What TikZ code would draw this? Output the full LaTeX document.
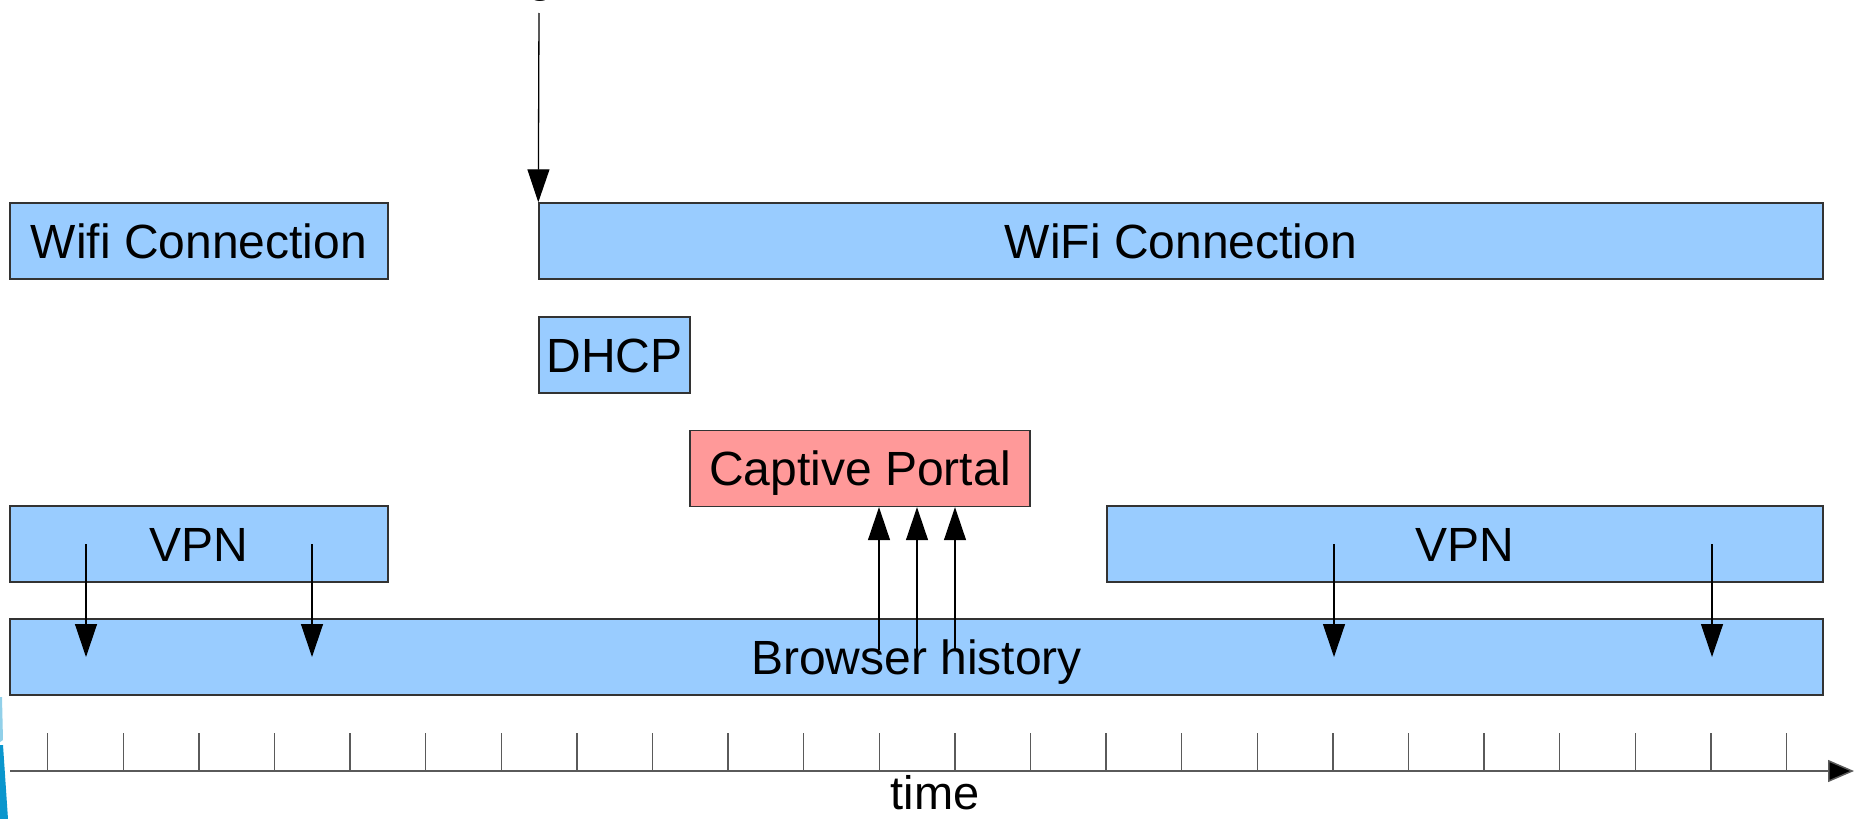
\documentclass[tikz,border=0pt]{standalone}
\usepackage{fontspec}
\setmainfont{Liberation Sans}
\usetikzlibrary{arrows.meta}
\definecolor{boxblue}{RGB}{153,204,255}
\definecolor{boxred}{RGB}{255,153,153}
\definecolor{edge}{RGB}{51,51,51}
\definecolor{axisgray}{RGB}{90,90,90}
\definecolor{deco}{RGB}{10,150,205}
\tikzset{
  box/.style={draw=edge, line width=0.7pt, fill=boxblue, inner sep=0pt,
    minimum height=38pt, text height=17.2pt, text depth=0pt,
    font=\fontsize{24}{28}\selectfont},
  redbox/.style={box, fill=boxred},
  arr/.style={line width=0.65pt, -{Triangle[length=16.5pt,width=11pt]}},
  axis/.style={draw=axisgray, line width=0.75pt, -{Triangle[length=13pt,width=11pt,fill=black]}},
  tick/.style={draw=axisgray, line width=0.75pt},
  lbl/.style={inner sep=0pt, font=\fontsize{23.5}{27}\selectfont}
}
\begin{document}
\begin{tikzpicture}[x=0.5pt,y=-0.5pt]
\useasboundingbox (0,0) rectangle (1854,819);
\fill[white] (0,0) rectangle (1854,819);
% partial glyph at the top edge
\begin{scope}
\clip (0,0) rectangle (1854,819);
\node[lbl, anchor=base, font=\fontsize{24}{28}\selectfont] (gfrag) at (541,-9) {g};
\end{scope}
% left edge decoration
\fill[deco!45] (0,697) -- (2,697) -- (3,740) -- (0,742) -- cycle;
\fill[deco] (0,745) -- (3,745) -- (8,819) -- (0,819) -- cycle;
% boxes
\node[box, minimum width=189pt] (wifiL) at (199,241) {Wifi Connection};
\node[box, minimum width=642pt] (wifiR) at (1181,241) {WiFi Connection};
\node[box, minimum width=75.5pt] (dhcp) at (614.5,355) {DHCP};
\node[redbox, minimum width=170pt] (portal) at (860,468.5) {Captive Portal};
\node[box, minimum width=189pt] (vpnL) at (199,544) {VPN};
\node[box, minimum width=358pt] (vpnR) at (1465,544) {VPN};
\node[box, minimum width=906.5pt] (hist) at (916.5,657) {Browser history};
% arrow into the second WiFi connection
\coordinate (topstart) at (539,13);
\draw[arr] (topstart) -- (wifiR.north west);
% VPN arrows down into browser history
\foreach \x [count=\i] in {86,312,1334,1712}{
  \coordinate (vs\i) at (\x,544);
  \coordinate (ve\i) at (\x,657);
  \draw[arr] (vs\i) -- (ve\i);
}
% browser history arrows up into captive portal
\foreach \x [count=\i] in {879,917,955}{
  \coordinate (us\i) at (\x,650);
  \draw[arr] (us\i) -- (us\i |- portal.south);
}
% time axis
\coordinate (ax0) at (10,771);
\coordinate (ax1) at (1854,771);
\foreach \k in {0,...,23}{
  \draw[tick] ({47.7+75.6*\k},733) -- ({47.7+75.6*\k},771);
}
\draw[axis] (ax0) -- (ax1);
\node[lbl, anchor=base] (time) at (935,809) {time};
\end{tikzpicture}
\end{document}
